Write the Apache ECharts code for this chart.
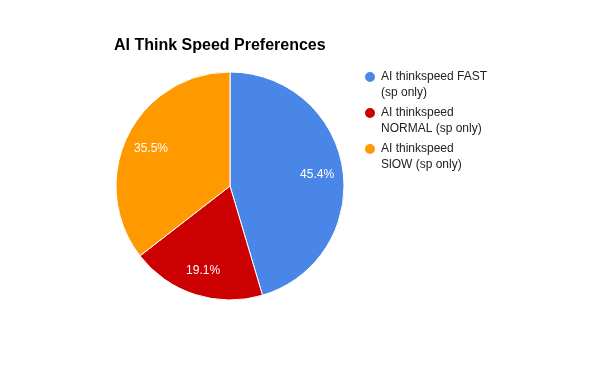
<!DOCTYPE html>
<html><head><meta charset="utf-8">
<script src="https://cdn.jsdelivr.net/npm/echarts@6/dist/echarts.min.js"></script>
<style>html,body{margin:0;padding:0;background:#fff}#c{width:600px;height:371px}</style>
</head><body><div id="c"></div>
<script>
const categories = ['AI thinkspeed FAST (sp only)', 'AI thinkspeed NORMAL (sp only)', 'AI thinkspeed SlOW (sp only)'];
const legendLines = {
  'AI thinkspeed FAST (sp only)': 'AI thinkspeed FAST\n(sp only)',
  'AI thinkspeed NORMAL (sp only)': 'AI thinkspeed\nNORMAL (sp only)',
  'AI thinkspeed SlOW (sp only)': 'AI thinkspeed\nSlOW (sp only)'
};
const values = [45.4, 19.1, 35.5];
const colors = ['#4a86e8', '#cc0000', '#ff9900'];
const titleText = 'AI Think Speed Preferences';

const data = categories.map((c, i) => ({ name: c, value: values[i] }));
const chart = echarts.init(document.getElementById('c'), null, { renderer: 'canvas' });
chart.setOption({
  animation: false,
  color: colors,
  title: {
    text: titleText, left: 114, top: 38, padding: 0,
    textStyle: { fontFamily: 'Liberation Sans, Arial, sans-serif', fontSize: 16, fontWeight: 'bold', color: '#000' }
  },
  legend: {
    orient: 'vertical', left: 363, top: 53, padding: 0,
    icon: 'circle', itemWidth: 12, itemHeight: 12, itemGap: -12,
    data: categories,
    formatter: n => '\n' + legendLines[n],
    textStyle: { fontFamily: 'Liberation Sans, Arial, sans-serif', fontSize: 12, color: '#222', lineHeight: 16 }
  },
  series: [
    {
      type: 'pie', center: [230, 186], radius: 114, startAngle: 90, clockwise: true,
      data: data, label: { show: false }, labelLine: { show: false },
      itemStyle: { borderColor: '#fff', borderWidth: 1 }
    },
    {
      type: 'pie', center: [230, 186], radius: [56, 114], startAngle: 90, clockwise: true, silent: true,
      data: data, legendHoverLink: false,
      itemStyle: { color: 'rgba(0,0,0,0)' },
      label: { show: true, position: 'inside', formatter: p => p.value.toFixed(1) + '%', color: '#fff',
        fontFamily: 'Liberation Sans, Arial, sans-serif', fontSize: 12, offset: [0, 1] },
      labelLine: { show: false }
    }
  ]
});
</script></body></html>
